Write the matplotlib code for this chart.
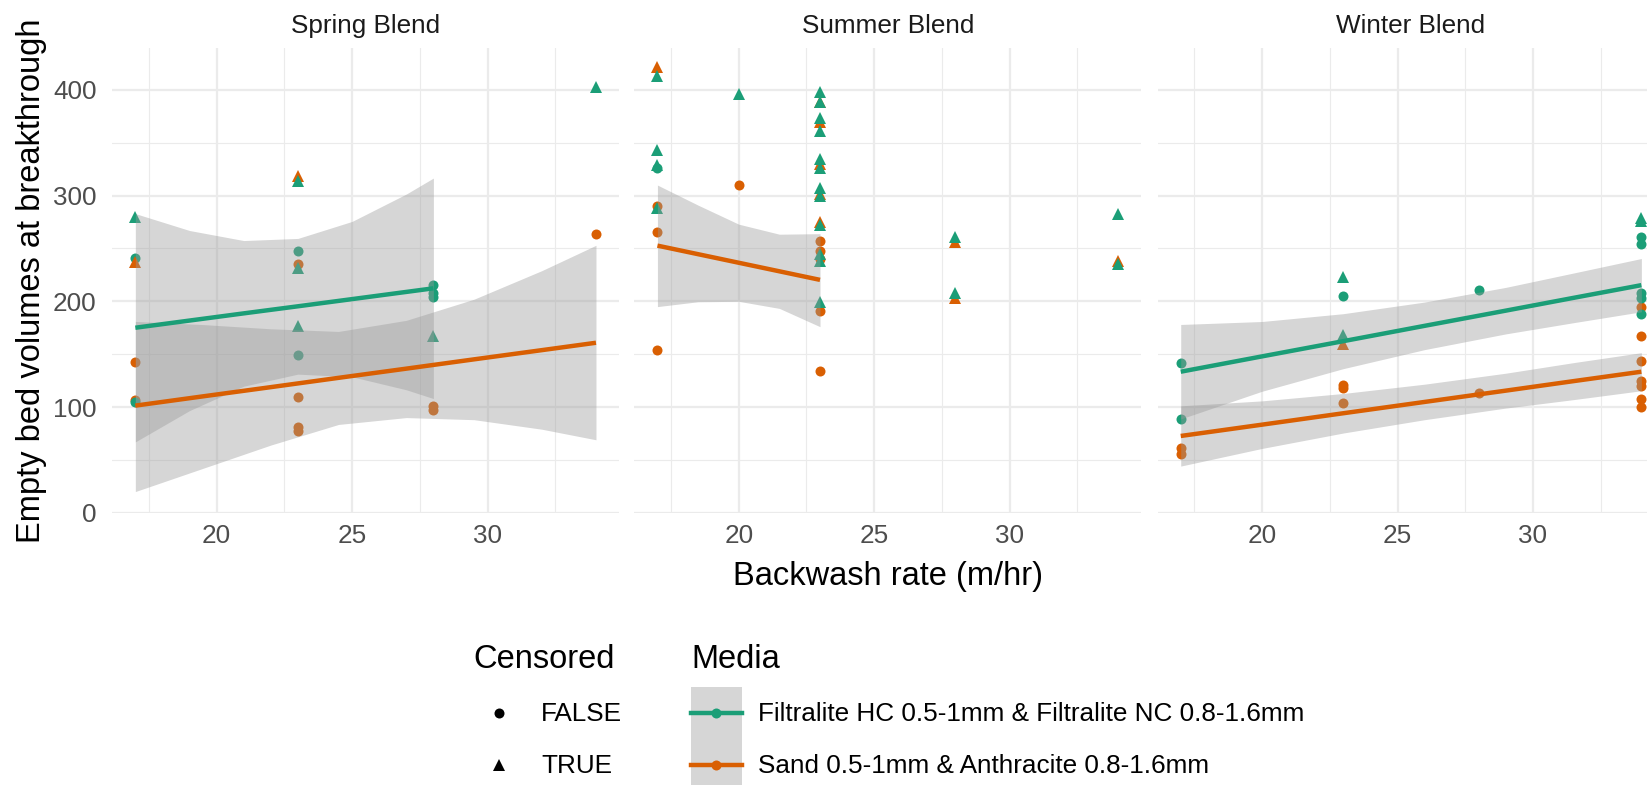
import matplotlib
matplotlib.use("Agg")
import matplotlib.pyplot as plt
from matplotlib.lines import Line2D
from matplotlib.patches import Rectangle
from matplotlib.legend_handler import HandlerTuple, HandlerLine2D

plt.rcParams["font.family"] = ["Liberation Sans", "DejaVu Sans"]

TEAL = "#1B9E77"
ORANGE = "#D95F02"
MEDIA_COLOURS = {"F": TEAL, "S": ORANGE}

blends = ["Spring Blend", "Summer Blend", "Winter Blend"]
media_labels = [
    "Filtralite HC 0.5-1mm & Filtralite NC 0.8-1.6mm",
    "Sand 0.5-1mm & Anthracite 0.8-1.6mm",
]

# ---- points: backwash rate, empty bed volumes, media (F/S), censored ----
spring_rate = [17, 17, 23, 23, 23, 23, 28, 28, 34,
               17, 17, 23, 23, 28, 28, 28,
               17, 23,
               17, 23, 23, 23, 28, 34]
spring_ebv = [143, 107, 235, 109, 81, 77, 101, 97, 264,
              241, 105, 248, 149, 215, 208, 204,
              237, 319,
              280, 314, 232, 177, 167, 403]
spring_media = ["S"] * 9 + ["F"] * 7 + ["S"] * 2 + ["F"] * 6
spring_cens = [False] * 16 + [True] * 8

summer_rate = [17, 17, 17, 20, 23, 23, 23, 23, 23,
               17,
               17, 23, 23, 23, 23, 23, 28, 28, 34,
               17, 17, 17, 17, 20, 23, 23, 23, 23, 23, 23, 23, 23, 23, 23, 23, 23,
               28, 28, 34, 34]
summer_ebv = [290, 266, 154, 310, 257, 248, 240, 191, 134,
              326,
              422, 389, 370, 330, 302, 275, 256, 203, 238,
              413, 343, 329, 288, 396, 398, 389, 373, 361, 335, 326, 307, 300,
              272, 245, 238, 199, 261, 208, 283, 235]
summer_media = ["S"] * 9 + ["F"] * 1 + ["S"] * 9 + ["F"] * 21
summer_cens = [False] * 10 + [True] * 30

winter_rate = [17, 17, 23, 23, 23, 28, 34, 34, 34, 34, 34, 34, 34,
               17, 17, 23, 28, 34, 34, 34, 34, 34,
               23,
               23, 23, 34, 34]
winter_ebv = [61, 56, 121, 118, 104, 113, 195, 167, 144, 125, 120, 108, 100,
              142, 89, 205, 211, 261, 254, 208, 203, 188,
              160,
              223, 168, 279, 276]
winter_media = ["S"] * 13 + ["F"] * 9 + ["S"] * 1 + ["F"] * 4
winter_cens = [False] * 22 + [True] * 5

# ---- linear fits with 95% band (uncensored points only) ----
spring_hc_x = [17, 19, 21, 23, 25, 27, 28]
spring_hc_fit = [175, 181.8, 188.6, 195.3, 202.1, 208.9, 212.3]
spring_hc_lo = [67, 96.6, 119.7, 131.1, 128.6, 116.3, 108]
spring_hc_hi = [283, 267, 257.5, 259.5, 275.6, 301.5, 316.6]

spring_sa_x = [17, 19.5, 22, 24.5, 27, 29.5, 32, 34]
spring_sa_fit = [101.3, 110.1, 118.8, 127.6, 136.3, 145.1, 153.8, 160.8]
spring_sa_lo = [20, 42, 64, 83.5, 90, 88, 79, 69]
spring_sa_hi = [181, 178, 174, 171.5, 182, 202, 229, 253]

summer_sa_x = [17, 18.5, 20, 21.5, 23]
summer_sa_fit = [252.7, 244.6, 236.5, 228.4, 220.3]
summer_sa_lo = [195, 199.6, 200, 193.3, 176]
summer_sa_hi = [310, 291, 273, 263.5, 264]

winter_hc_x = [17, 20, 23, 26, 29, 31.5, 34]
winter_hc_fit = [133.4, 147.9, 162.3, 176.8, 191.2, 203.3, 215.3]
winter_hc_lo = [88.7, 114.9, 136.3, 154.3, 169.2, 179.8, 190.1]
winter_hc_hi = [178.1, 180.9, 188.3, 199.3, 213.2, 226.8, 240.5]

winter_sa_x = [17, 20, 23, 26, 29, 31.5, 34]
winter_sa_fit = [72.6, 83.3, 94.1, 104.8, 115.5, 124.5, 133.4]
winter_sa_lo = [44.1, 60.8, 75.4, 88, 99, 107, 115.4]
winter_sa_hi = [101.1, 105.8, 112.8, 121.6, 132, 142, 151.4]

points = [
    (spring_rate, spring_ebv, spring_media, spring_cens),
    (summer_rate, summer_ebv, summer_media, summer_cens),
    (winter_rate, winter_ebv, winter_media, winter_cens),
]
smooths = [
    [("F", spring_hc_x, spring_hc_fit, spring_hc_lo, spring_hc_hi),
     ("S", spring_sa_x, spring_sa_fit, spring_sa_lo, spring_sa_hi)],
    [("S", summer_sa_x, summer_sa_fit, summer_sa_lo, summer_sa_hi)],
    [("F", winter_hc_x, winter_hc_fit, winter_hc_lo, winter_hc_hi),
     ("S", winter_sa_x, winter_sa_fit, winter_sa_lo, winter_sa_hi)],
]


class CentredLineHandler(HandlerLine2D):
    # put legend lines/markers in the vertical middle of the key box
    def create_artists(self, legend, orig_handle, xdescent, ydescent,
                       width, height, fontsize, trans):
        artists = super().create_artists(legend, orig_handle, xdescent, ydescent,
                                         width, height, fontsize, trans)
        for a in artists:
            x, y = a.get_data()
            a.set_data(x, [height / 2 - ydescent] * len(y))
        return artists


W, H = 1647, 785
fig = plt.figure(figsize=(W / 100, H / 100), dpi=100)
fig.patch.set_facecolor("white")

panel_left = [112.3, 634.4, 1157.7]
panel_w, panel_h, panel_bottom = 506.7, 464.4, 272.3

for i, blend in enumerate(blends):
    ax = fig.add_axes([panel_left[i] / W, panel_bottom / H, panel_w / W, panel_h / H])
    ax.set_xlim(16.15, 34.85)
    ax.set_ylim(0, 439.4)
    for s in ax.spines.values():
        s.set_visible(False)
    ax.set_xticks([20, 25, 30])
    ax.set_xticks([17.5, 22.5, 27.5, 32.5], minor=True)
    ax.set_yticks([0, 100, 200, 300, 400])
    ax.set_yticks([50, 150, 250, 350], minor=True)
    ax.grid(which="major", color="#EBEBEB", lw=1.6)
    ax.grid(which="minor", color="#EBEBEB", lw=0.85)
    ax.set_axisbelow(True)
    ax.tick_params(axis="both", which="both", length=0, labelsize=18.8, labelcolor="#4D4D4D")
    ax.tick_params(axis="x", pad=8.3)
    ax.tick_params(axis="y", pad=11.2)
    if i > 0:
        ax.set_yticklabels([])
    ax.set_title(blend, fontsize=18.8, color="#1A1A1A", pad=11)

    rate, ebv, media, cens = points[i]
    for cflag, marker, ms in [(False, "o", 7.2), (True, "^", 9)]:
        for m in ["S", "F"]:
            xs = [x for x, mm, c in zip(rate, media, cens) if mm == m and c == cflag]
            ys = [y for y, mm, c in zip(ebv, media, cens) if mm == m and c == cflag]
            ax.plot(xs, ys, ls="", marker=marker, ms=ms, mew=0,
                    color=MEDIA_COLOURS[m], zorder=2)

    for m, bx, fit, lo, hi in smooths[i]:
        ax.fill_between(bx, lo, hi, color="#999999", alpha=0.4, lw=0, zorder=3)
    for m, bx, fit, lo, hi in smooths[i]:
        ax.plot(bx, fit, color=MEDIA_COLOURS[m], lw=3.2, zorder=4, solid_capstyle="butt")

fig.text(32 / W, 1 - 280.5 / H, "Empty bed volumes at breakthrough",
         rotation=90, ha="center", va="center", fontsize=23.5)
fig.text(888.3 / W, 1 - 585 / H, "Backwash rate (m/hr)",
         ha="center", va="baseline", fontsize=23.5)

# legends
fig.text(473 / W, 1 - 668 / H, "Censored", fontsize=23.5, va="baseline")
fig.text(691 / W, 1 - 668 / H, "Media", fontsize=23.5, va="baseline")

legend_kw = dict(loc="upper left", frameon=False, fontsize=18.8,
                 handleheight=2.686, labelspacing=0, borderpad=0, borderaxespad=0)

cens_handles = [
    Line2D([], [], ls="", marker="o", color="black", ms=7.2, mew=0),
    Line2D([], [], ls="", marker="^", color="black", ms=9, mew=0),
]
fig.legend(cens_handles, ["FALSE", "TRUE"],
           handler_map={Line2D: CentredLineHandler()},
           bbox_to_anchor=(483.5 / W, 1 - 687 / H),
           handlelength=1.2, handletextpad=1.0, **legend_kw)

media_handles = [
    (Rectangle((0, 0), 1, 1, fc="#D6D6D6", ec="none"),
     Line2D([], [], color=c, lw=3.2, marker="o", ms=7.2, mew=0))
    for c in [TEAL, ORANGE]
]
fig.legend(media_handles, media_labels,
           handler_map={tuple: HandlerTuple(ndivide=1, pad=0),
                        Line2D: CentredLineHandler()},
           bbox_to_anchor=(691 / W, 1 - 687 / H),
           handlelength=1.94, handletextpad=0.63, **legend_kw)

fig.savefig("out.png", dpi=100)
